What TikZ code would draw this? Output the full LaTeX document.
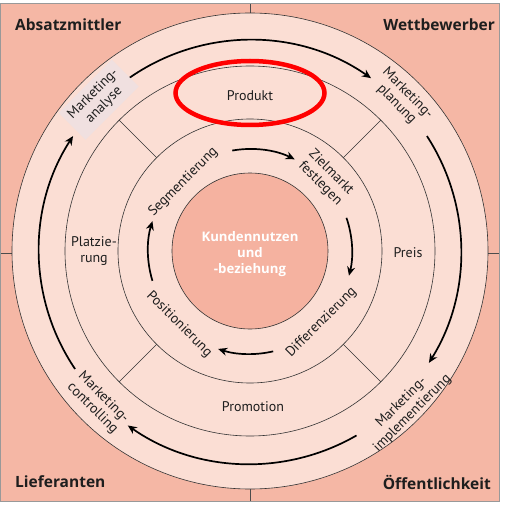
\documentclass[tikz,border=0pt]{standalone}
\usepackage{fontspec}
\setmainfont{PT Sans}
\newfontfamily\heavyfont{Open Sans}
\usetikzlibrary{arrows.meta}
\definecolor{outerbg}{RGB}{245,183,165}
\definecolor{ringfill}{RGB}{251,222,212}
\definecolor{corefill}{RGB}{245,178,160}
\definecolor{boxfill}{RGB}{240,224,224}
\definecolor{textcol}{RGB}{30,30,30}

\begin{document}
\begin{tikzpicture}[x=1pt, y=1pt,
  every node/.style={font=\fontsize{14}{15.5}\selectfont, align=center,
    inner sep=1pt, text=textcol},
  ring/.style={draw=black!80, line width=0.6pt},
  cycle/.style={line width=1.7pt, -{Stealth[length=9pt,width=8pt]}},
  corner/.style={font=\heavyfont\fontsize{15.5}{18}\selectfont\bfseries}]
  \useasboundingbox (-250,-258) rectangle (256,251);

  % background and quadrant ticks
  \fill[outerbg] (-250,-250) rectangle (249,248);
  \draw[black!70, line width=0.5pt] (0,-250) -- (0,248);
  \draw[black!70, line width=0.5pt] (-250,-2) -- (249,-2);
  \draw[gray!80, line width=0.8pt] (-250,-250) rectangle (249,248);

  % rings
  \fill[ringfill] (0,0) circle (238);
  \draw[ring] (0,0) circle (238);
  \draw[ring] (0,0) circle (185);
  \draw[ring] (0,0) circle (132);
  \fill[corefill] (0,0) circle (78);
  \draw[ring] (0,0) circle (78);
  \foreach \a in {45,135,225,315}
    \draw[ring, line width=0.5pt] (\a:132) -- (\a:185);

  % outer process cycle
  \draw[cycle] (125:211) arc[start angle=125, end angle=55, radius=211];
  \draw[cycle] (33:211) arc[start angle=33, end angle=-32, radius=211];
  \draw[cycle] (-60:213) arc[start angle=-60, end angle=-125, radius=213];
  \draw[cycle] (214:211) arc[start angle=214, end angle=147, radius=211];

  % inner cycle
  \draw[cycle] (100:102) arc[start angle=100, end angle=64, radius=102];
  \draw[cycle] (19:102) arc[start angle=19, end angle=-14, radius=102];
  \draw[cycle] (-77:103) arc[start angle=-77, end angle=-108, radius=103];
  \draw[cycle] (197:102) arc[start angle=197, end angle=163, radius=102];

  % process labels
  \node[fill=boxfill, rotate=45, inner sep=5pt] (analyse) at (135:214) {Marketing-\\analyse};
  \node[rotate=-45] (planung) at (45:215) {Marketing-\\planung};
  \node[rotate=45] (implement) at (-45:222) {Marketing-\\implementierung};
  \node[rotate=-45] (controlling) at (225:215) {Marketing-\\controlling};

  % marketing mix
  \node (produkt) at (0,155) {Produkt};
  \node (preis) at (158,-2) {Preis};
  \node (promotion) at (3,-156) {Promotion};
  \node (platz) at (-156,0) {Platzie-\\rung};
  \draw[red, line width=4.5pt] (0,158) ellipse (74.5 and 32);

  % strategy labels
  \node[rotate=45] (segment) at (134:96) {Segmentierung};
  \node[rotate=-45] (ziel) at (44:105) {Zielmarkt\\festlegen};
  \node[rotate=45] (differenz) at (-45:101) {Differenzierung};
  \node[rotate=-45] (position) at (226:102) {Positionierung};

  % core
  \node[text=white, font=\heavyfont\fontsize{13.2}{16}\selectfont\bfseries] (kern) at (0,-3)
    {Kundennutzen\\und\\-beziehung};

  % environment
  \node[corner, anchor=west] (absatz) at (-236,226) {Absatzmittler};
  \node[corner, anchor=east] (wettb) at (246,226) {Wettbewerber};
  \node[corner, anchor=west] (liefer) at (-236,-231) {Lieferanten};
  \node[corner, anchor=east] (oeff) at (242,-231) {Öffentlichkeit};
\end{tikzpicture}
\end{document}
